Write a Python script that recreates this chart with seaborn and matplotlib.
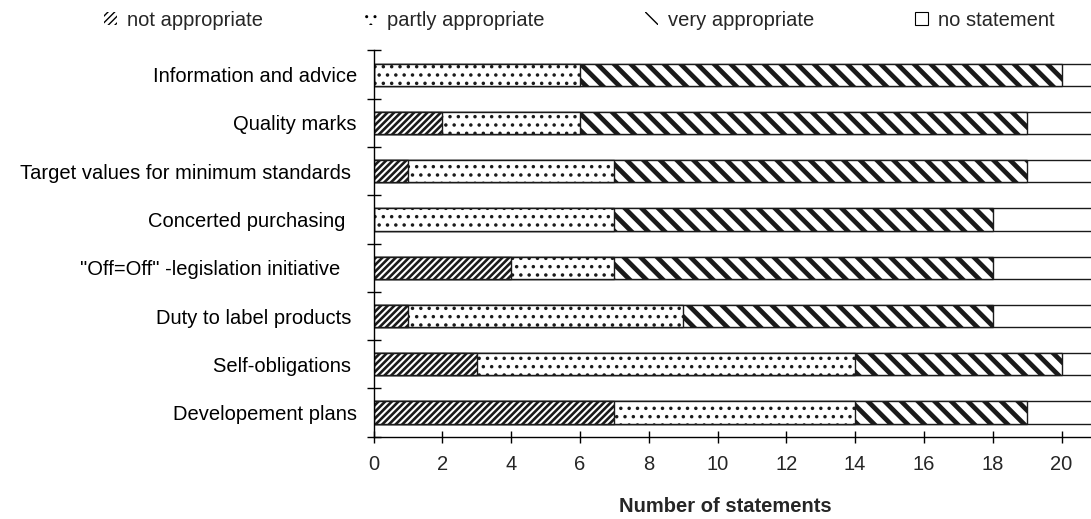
import numpy as np
import pandas as pd
import matplotlib
matplotlib.use("Agg")
import matplotlib.pyplot as plt
import matplotlib.patches as mpatches
import seaborn as sns

# ---- data -------------------------------------------------------------
categories = [
    "Information and advice",
    "Quality marks",
    "Target values for minimum standards ",
    "Concerted purchasing  ",
    "\"Off=Off\" -legislation initiative   ",
    "Duty to label products ",
    "Self-obligations ",
    "Developement plans",
]
not_appropriate = [0, 2, 1, 0, 4, 1, 3, 7]
partly_appropriate = [6, 4, 6, 7, 3, 8, 11, 7]
very_appropriate = [14, 13, 12, 11, 11, 9, 6, 5]
no_statement = [1, 2, 2, 3, 3, 3, 1, 2]
series_labels = ["not appropriate", "partly appropriate", "very appropriate", "no statement"]
x_ticks = [0, 2, 4, 6, 8, 10, 12, 14, 16, 18, 20]
x_label = "Number of statements"

# ---- style ------------------------------------------------------------
sns.set_style("white")
plt.rcParams["font.family"] = ["Liberation Sans", "DejaVu Sans"]
FS = 14.5
plt.rcParams["font.size"] = FS

W, H = 1091, 519
fig = plt.figure(figsize=(W / 100, H / 100), dpi=100)
left = 373.5 / W
bottom = 1 - 436.7 / H
top = 1 - 50.5 / H
ax = fig.add_axes([left, bottom, 1 - left, top - bottom])

df = pd.DataFrame({
    "cat": categories,
    "not": not_appropriate,
    "partly": partly_appropriate,
    "very": very_appropriate,
    "none": no_statement,
})
df["c_not"] = df["not"]
df["c_partly"] = df["c_not"] + df["partly"]
df["c_very"] = df["c_partly"] + df["very"]
df["c_none"] = df["c_very"] + df["none"]

H_NOT, H_PARTLY, H_VERY = "/////", "..", "\\\\"
LW_NOT, LW_PARTLY, LW_VERY = 1.9, 1.3, 3.4

layers = [
    ("c_none", "", 1.0),
    ("c_very", H_VERY, LW_VERY),
    ("c_partly", H_PARTLY, LW_PARTLY),
    ("c_not", H_NOT, LW_NOT),
]
edge = "#1a1a1a"
for col, hatch, hlw in layers:
    before = len(ax.patches)
    sns.barplot(data=df, x=col, y="cat", orient="h", color="white",
                saturation=1, edgecolor=edge, linewidth=1.0, width=0.46,
                ax=ax, order=categories)
    for p in ax.patches[before:]:
        p.set_facecolor("white")
        p.set_edgecolor(edge)
        if hatch:
            p.set_hatch(hatch)
            if hasattr(p, "set_hatch_linewidth"):
                p.set_hatch_linewidth(hlw)

ax.set_xlim(0, (W - 373.5) / 34.4)
ax.set_ylim(7.5, -0.5)
ax.set_xticks(x_ticks)
ax.set_xticklabels([str(t) for t in x_ticks])
ax.set_yticks(range(len(categories)))
ax.set_yticklabels(categories)
ax.set_yticks(np.arange(-0.5, len(categories), 1.0), minor=True)
ax.set_ylabel("")
ax.set_xlabel(x_label, fontweight="bold", fontsize=FS)
ax.xaxis.set_label_coords(0.49, -0.155)

for s in ["top", "right"]:
    ax.spines[s].set_visible(False)
for s in ["left", "bottom"]:
    ax.spines[s].set_color("black")
    ax.spines[s].set_linewidth(1.0)

ax.tick_params(axis="y", which="major", length=0, pad=12, labelsize=FS, colors="black")
ax.tick_params(axis="y", which="minor", direction="inout", length=10, width=1, color="black", left=True)
ax.tick_params(axis="x", which="major", direction="inout", length=9, width=1, color="black",
               labelsize=FS, pad=9, bottom=True)

# ---- legend -----------------------------------------------------------
handles = []
for lab, hatch, hlw in zip(series_labels, [H_NOT, H_PARTLY, H_VERY, ""],
                           [LW_NOT, LW_PARTLY, LW_VERY, 1.0]):
    if hatch:
        h = mpatches.Patch(facecolor="white", edgecolor="black", linewidth=0, hatch=hatch, label=lab)
        if hasattr(h, "set_hatch_linewidth"):
            h.set_hatch_linewidth(hlw)
    else:
        h = mpatches.Patch(facecolor="white", edgecolor="black", linewidth=0.8, label=lab)
    handles.append(h)

fig.legend(handles=handles, loc="center left", bbox_to_anchor=(104 / W, 1 - 20 / H),
           ncol=4, frameon=False, fontsize=FS, handlelength=0.65, handleheight=0.65,
           handletextpad=0.5, columnspacing=5.0, borderpad=0, borderaxespad=0)

fig.savefig("out.png", dpi=100)
